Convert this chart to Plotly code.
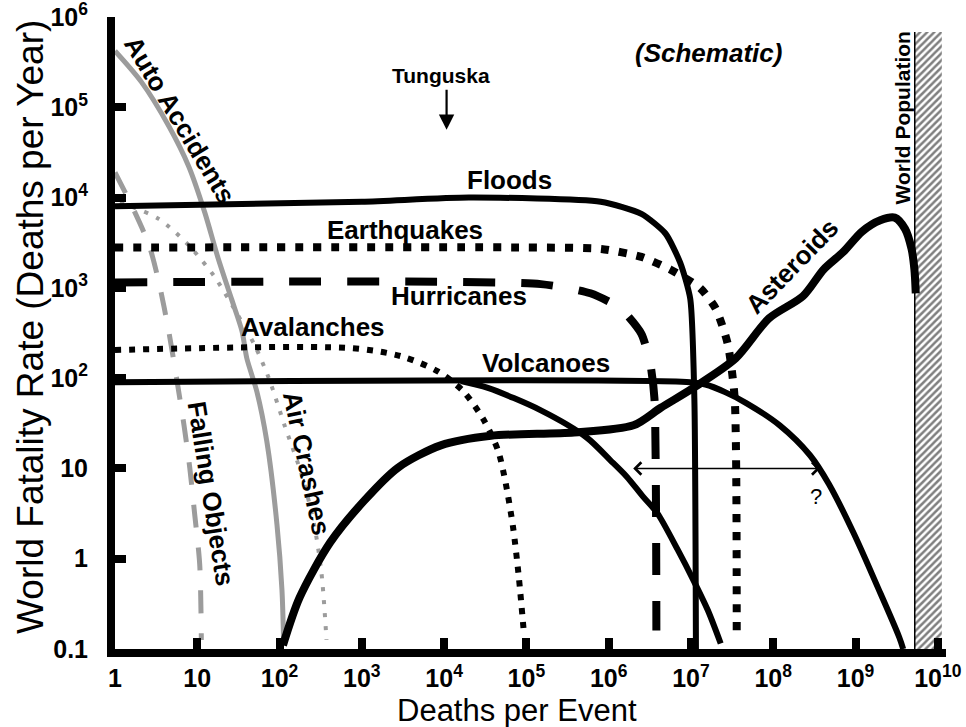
import plotly.graph_objects as go

FONT = "Liberation Sans, Arial, Helvetica, sans-serif"

# ---------------- data (deaths per event -> world fatality rate, deaths/yr) ----
floods_x = [1, 1e3, 2e4, 8e5, 2.5e6, 4.9e6, 7.4e6, 9.8e6, 1.1e7, 1.15e7]
floods_y = [8000, 9000, 10000, 9000, 6600, 4000, 1900, 760, 60, 0.1]

quakes_x = [1, 1e5, 8.1e5, 2.5e6, 5.6e6, 1.3e7, 2e7, 2.8e7, 3.4e7, 3.6e7]
quakes_y = [2800, 2800, 2700, 2200, 1600, 990, 590, 240, 60, 0.14]

hurr_x = [1, 1.5e5, 6e5, 1.4e6, 2.5e6, 3.2e6, 3.6e6, 3.8e6]
hurr_y = [1150, 1100, 870, 590, 310, 145, 60, 0.16]

aval_x = [1, 740, 3000, 8500, 1.7e4, 3e4, 4.5e4, 5.6e4, 6.9e4, 8.1e4, 9.3e4]
aval_y = [205, 215, 175, 118, 72, 35, 16, 6.9, 2.2, 0.62, 0.155]

volc_x = [1, 9.8e6, 1.5e7, 2.6e7, 4.7e7, 1.2e8, 2.8e8, 4.8e8, 9.3e8, 1.8e9, 3.4e9, 3.8e9]
volc_y = [90, 90, 85, 70, 53, 30, 14, 6.6, 2.0, 0.52, 0.135, 0.1]

volc2_x = [1.6e4, 3.4e4, 1.5e5, 5.4e5, 1.05e6, 1.66e6, 2.6e6, 3.9e6, 6.9e6, 1.07e7, 1.6e7, 2.3e7]
volc2_y = [93, 78, 44, 22, 12.3, 8.1, 4.9, 3.2, 1.26, 0.58, 0.27, 0.115]

ast_x = [110, 175, 410, 1070, 2750, 9100, 3.7e4, 3.8e5, 2e6, 4.3e6, 1.07e7, 3.5e7,
         8.9e7, 2.3e8, 4.1e8, 7.1e8, 1.2e9, 2e9, 3e9, 4e9, 4.8e9, 5.2e9, 5.4e9]
ast_y = [0.11, 0.37, 1.5, 4.4, 10.2, 18, 23, 25, 30, 47, 78, 166,
         460, 810, 1600, 2500, 4200, 5600, 6000, 4500, 2700, 1600, 870]

auto_x = [1, 2.1, 4.5, 7.9, 12.3, 18, 26, 35, 40, 53, 70, 93, 107, 112]
auto_y = [4.2e5, 1.9e5, 6.2e4, 2.2e4, 6900, 2100, 760, 330, 166, 71, 20, 2.4, 0.45, 0.12]

fall_x = [1, 1.74, 2.6, 3.4, 4.5, 5.6, 6.9, 8.1, 9.3, 10.7, 11.2]
fall_y = [1.9e4, 6900, 2950, 1170, 330, 100, 30, 10.2, 3.1, 0.87, 0.126]

air_x = [1.15, 3.4, 7.9, 16, 28, 50, 74, 115, 186, 263, 324, 372]
air_y = [8900, 5800, 2950, 1350, 590, 230, 100, 30, 8.5, 2.4, 0.68, 0.126]

worldpop_x = [5.25e9, 1.12e10]
worldpop_top = 6.8e5

x_tickvals = [1, 1e1, 1e2, 1e3, 1e4, 1e5, 1e6, 1e7, 1e8, 1e9, 1e10]
x_ticktext = ["1", "10"] + ["10<sup>%d</sup>" % k for k in range(2, 11)]
y_tickvals = [0.1, 1, 10, 1e2, 1e3, 1e4, 1e5, 1e6]
y_ticktext = ["0.1", "1", "10"] + ["10<sup>%d</sup>" % k for k in range(2, 7)]

# ---------------- figure ----------------------------------------------------
fig = go.Figure()

# World population hatched region
fig.add_trace(go.Scatter(
    x=[worldpop_x[0], worldpop_x[1], worldpop_x[1], worldpop_x[0], worldpop_x[0]],
    y=[0.1, 0.1, worldpop_top, worldpop_top, 0.1],
    fill="toself", mode="lines", line=dict(width=0, color="black"),
    fillcolor="white",
    fillpattern=dict(shape="/", fgcolor="black", bgcolor="white", size=5, solidity=0.5),
    hoverinfo="skip"))
fig.add_trace(go.Scatter(x=[worldpop_x[0], worldpop_x[0]], y=[0.1, worldpop_top],
                         mode="lines", line=dict(color="black", width=1.5)))

def curve(x, y, color="black", width=6, dash="solid", smooth=0.8):
    fig.add_trace(go.Scatter(x=x, y=y, mode="lines",
                             line=dict(color=color, width=width, dash=dash,
                                       shape="spline", smoothing=smooth),
                             hoverinfo="skip"))

GRAY = "#9c9c9c"
curve(auto_x, auto_y, GRAY, 5)
curve(fall_x, fall_y, GRAY, 5, "23px,20px")
curve(air_x, air_y, GRAY, 4, "4px,9px")
curve(floods_x, floods_y, "black", 6, smooth=0.6)
curve(quakes_x, quakes_y, "black", 8, "8px,10px", smooth=0.6)
curve(hurr_x, hurr_y, "black", 8, "32px,26px", smooth=0.6)
curve(aval_x, aval_y, "black", 6, "6px,8px")
curve(volc_x, volc_y, "black", 6, smooth=1.0)
curve(volc2_x, volc2_y, "black", 6)
curve(ast_x, ast_y, "black", 8)

# ---------------- annotations (x,y in log10 units on log axes) -------------
def label(text, lx, ly, size=26, angle=0, weight="bold", style="normal"):
    fig.add_annotation(x=lx, y=ly, xref="x", yref="y", text=text, showarrow=False,
                       textangle=angle, xanchor="center", yanchor="middle",
                       font=dict(family=FONT, size=size, color="black",
                                 weight=weight, style=style))

label("Floods", 4.80, 4.20)
label("Earthquakes", 3.52, 3.64)
label("Hurricanes", 4.18, 2.91)
label("Avalanches", 2.41, 2.57)
label("Volcanoes", 5.24, 2.17)
label("Auto Accidents", 0.79, 4.86, angle=59)
label("Falling Objects", 1.17, 0.72, angle=81)
label("Air Crashes", 2.33, 1.06, angle=78)
label("Asteroids", 8.23, 3.24, angle=-46)
label("World Population", 9.57, 4.88, size=21, angle=-90)
label("(Schematic)", 7.21, 5.60, size=26, style="italic")
label("Tunguska", 3.96, 5.35, size=21)
label("?", 8.52, 0.69, size=22, weight="normal")

# Tunguska arrow
fig.add_annotation(x=4.03, y=4.75, ax=4.03, ay=5.21, xref="x", yref="y",
                   axref="x", ayref="y", text="", showarrow=True,
                   arrowhead=2, arrowsize=1.4, arrowwidth=2.2, arrowcolor="black")
# double-headed uncertainty arrow at 10 deaths/yr
fig.add_annotation(x=8.57, y=1.0, ax=6.28, ay=1.0, xref="x", yref="y",
                   axref="x", ayref="y", text="", showarrow=True,
                   arrowside="end+start", arrowhead=4, startarrowhead=4,
                   arrowsize=1.5, startarrowsize=1.5, arrowwidth=1.6,
                   arrowcolor="black")

# axis titles
fig.add_annotation(x=0.484, y=-0.0975, xref="paper", yref="paper",
                   xanchor="center", yanchor="middle",
                   text="Deaths per Event", showarrow=False,
                   font=dict(family=FONT, size=31, color="black"))
fig.add_annotation(x=-0.102, y=0.51, xref="paper", yref="paper",
                   xanchor="center", yanchor="middle",
                   text="World Fatality Rate (Deaths per Year)", showarrow=False,
                   textangle=-90,
                   font=dict(family=FONT, size=37, color="black"))

axis_common = dict(type="log", showgrid=False, zeroline=False, showline=True,
                   linewidth=8, linecolor="black", ticks="inside", ticklen=11,
                   tickwidth=8, tickcolor="black", mirror=False,
                   automargin=False, ticklabeloverflow="allow",
                   tickfont=dict(family=FONT, size=25, color="black", weight="bold"))

fig.update_layout(
    width=966, height=727,
    margin=dict(l=115, r=20, t=17, b=78, autoexpand=False),
    paper_bgcolor="white", plot_bgcolor="white",
    showlegend=False,
    xaxis=dict(range=[0, 10.1], tickvals=x_tickvals, ticktext=x_ticktext,
               ticklabelstandoff=0, **axis_common),
    yaxis=dict(range=[-1, 6], tickvals=y_tickvals, ticktext=y_ticktext,
               ticklabelstandoff=14, **axis_common),
)

# remove the default 8px page margin so the figure fills the window exactly
fig.write_html("out.html",
               config={"displayModeBar": False, "staticPlot": True},
               post_script="document.body.style.margin='0';"
                           "document.body.style.overflow='hidden';")
